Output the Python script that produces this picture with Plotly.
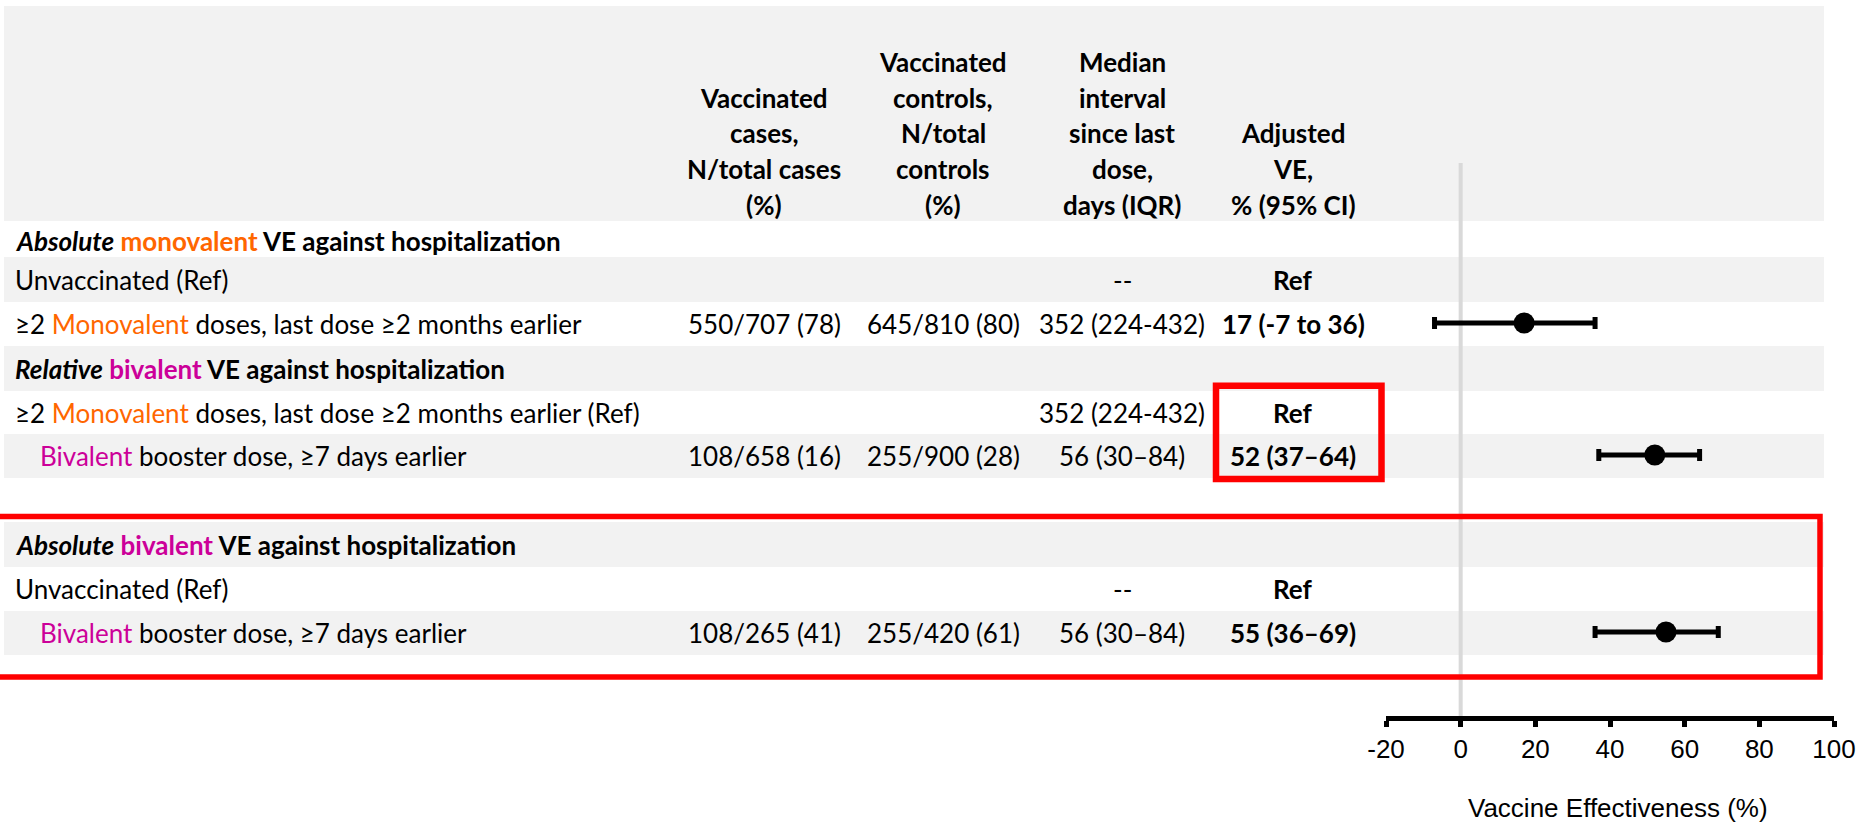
import plotly.graph_objects as go

W, H = 1860, 825
ORANGE = "#FF6600"
MAGENTA = "#CC0099"
GREY = "#F2F2F2"
RED = "#FF0000"
TABLE_FONT = "Lato, Liberation Sans, sans-serif"
AXIS_FONT = "Liberation Sans, Arial, sans-serif"


def mono(s):
    return f"<span style='color:{ORANGE}'>{s}</span>"


def biv(s):
    return f"<span style='color:{MAGENTA}'>{s}</span>"


# ---- data ----
header_cols = [
    ["Vaccinated", "cases,", "N/total cases", "(%)"],
    ["Vaccinated", "controls,", "N/total", "controls", "(%)"],
    ["Median", "interval", "since last", "dose,", "days (IQR)"],
    ["Adjusted", "VE,", "% (95% CI)"],
]

row_labels = [
    f"<b><i>Absolute</i> {mono('monovalent')} VE against hospitalization</b>",
    "Unvaccinated (Ref)",
    f"≥2 {mono('Monovalent')} doses, last dose ≥2 months earlier",
    f"<b><i>Relative</i> {biv('bivalent')} VE against hospitalization</b>",
    f"≥2 {mono('Monovalent')} doses, last dose ≥2 months earlier (Ref)",
    f"{biv('Bivalent')} booster dose, ≥7 days earlier",
    "",
    f"<b><i>Absolute</i> {biv('bivalent')} VE against hospitalization</b>",
    "Unvaccinated (Ref)",
    f"{biv('Bivalent')} booster dose, ≥7 days earlier",
]
row_indent = [False, False, False, False, False, True, False, False, False, True]
row_shaded = [False, True, False, True, False, True, False, True, False, True]

cases = ["", "", "550/707 (78)", "", "", "108/658 (16)", "", "", "", "108/265 (41)"]
controls = ["", "", "645/810 (80)", "", "", "255/900 (28)", "", "", "", "255/420 (61)"]
interval = ["", "--", "352 (224-432)", "", "352 (224-432)", "56 (30–84)", "", "", "--", "56 (30–84)"]
ve_text = ["", "Ref", "17 (-7 to 36)", "", "Ref", "52 (37–64)", "", "", "Ref", "55 (36–69)"]

ve = [None, None, 17, None, None, 52, None, None, None, 55]
ve_lo = [None, None, -7, None, None, 37, None, None, None, 36]
ve_hi = [None, None, 36, None, None, 64, None, None, None, 69]

x_ticks = [-20, 0, 20, 40, 60, 80, 100]
x_tick_text = ["-20", "0", "20", "40", "60", "80", "100"]

# ---- layout geometry (pixels) ----
row_edges = [221, 257, 302, 346, 391, 434, 478, 522, 567, 611, 655]
col_x = [764, 943, 1122, 1293]
LABEL_X, INDENT_X = 13, 38


def px(x):
    return x / W


row_mid = [(row_edges[i] + row_edges[i + 1]) / 2 for i in range(len(row_labels))]
row_mid[0] += 2

fig = go.Figure()

idx = [i for i, v in enumerate(ve) if v is not None]
fig.add_trace(go.Scatter(
    x=[ve[i] for i in idx],
    y=[row_mid[i] - 1 for i in idx],
    mode="markers",
    marker=dict(size=21, color="black"),
    error_x=dict(
        type="data", symmetric=False,
        array=[ve_hi[i] - ve[i] for i in idx],
        arrayminus=[ve[i] - ve_lo[i] for i in idx],
        color="black", thickness=5, width=6,
    ),
    hoverinfo="skip",
    showlegend=False,
))

shapes = [dict(type="rect", xref="paper", yref="y", x0=px(4), x1=px(1824), y0=6, y1=221,
               fillcolor=GREY, line_width=0, layer="below")]
for i, sh in enumerate(row_shaded):
    if sh:
        shapes.append(dict(type="rect", xref="paper", yref="y", x0=px(4), x1=px(1824),
                           y0=row_edges[i], y1=row_edges[i + 1],
                           fillcolor=GREY, line_width=0, layer="below"))
shapes.append(dict(type="line", xref="x", yref="y", x0=0, x1=0, y0=163, y1=719,
                   line=dict(color="#D9D9D9", width=4), layer="below"))
shapes.append(dict(type="rect", xref="paper", yref="y", x0=px(-6), x1=px(1820), y0=516.5, y1=677,
                   line=dict(color=RED, width=5.5), fillcolor="rgba(0,0,0,0)"))
shapes.append(dict(type="rect", xref="paper", yref="y", x0=px(1216), x1=px(1381.5), y0=385.7, y1=479,
                   line=dict(color=RED, width=6.5), fillcolor="rgba(0,0,0,0)"))

ann = []
tfont = dict(family=TABLE_FONT, size=26, color="black")
for c, lines in enumerate(header_cols):
    n = len(lines)
    for k, line in enumerate(lines):
        ann.append(dict(x=px(col_x[c]), y=205 - 35.8 * (n - 1 - k), xref="paper", yref="y",
                        text=f"<b>{line}</b>", showarrow=False, xanchor="center", yanchor="middle",
                        font=tfont))
for i, lab in enumerate(row_labels):
    y = row_mid[i]
    if lab:
        ann.append(dict(x=px(INDENT_X if row_indent[i] else LABEL_X), y=y, xref="paper", yref="y",
                        text=lab, showarrow=False, xanchor="left", yanchor="middle", font=tfont))
    for c, col in enumerate([cases, controls, interval, ve_text]):
        if col[i]:
            t = f"<b>{col[i]}</b>" if c == 3 else col[i]
            ann.append(dict(x=px(col_x[c]), y=y, xref="paper", yref="y", text=t,
                            showarrow=False, xanchor="center", yanchor="middle", font=tfont))
ann.append(dict(x=px(1618), y=808, xref="paper", yref="y", text="Vaccine Effectiveness (%)",
                showarrow=False, xanchor="center", yanchor="middle",
                font=dict(family=AXIS_FONT, size=26, color="black")))

fig.update_layout(
    template="none",
    width=W, height=H,
    margin=dict(l=0, r=0, t=0, b=0, pad=0),
    paper_bgcolor="white", plot_bgcolor="rgba(0,0,0,0)",
    shapes=shapes, annotations=ann, showlegend=False,
    xaxis=dict(domain=[px(1386), px(1834)], range=[-20, 100],
               tickvals=x_ticks, ticktext=x_tick_text, automargin=False,
               showgrid=False, zeroline=False, showline=True, linecolor="black", linewidth=5,
               ticks="outside", ticklen=6, tickwidth=5, tickcolor="black",
               anchor="free", position=1 - 718 / H,
               tickfont=dict(family=AXIS_FONT, size=26, color="black")),
    yaxis=dict(domain=[0, 1], range=[H, 0], visible=False, automargin=False),
)

fig.write_html("out.html", config={"displayModeBar": False},
               post_script="document.body.style.margin='0';")
